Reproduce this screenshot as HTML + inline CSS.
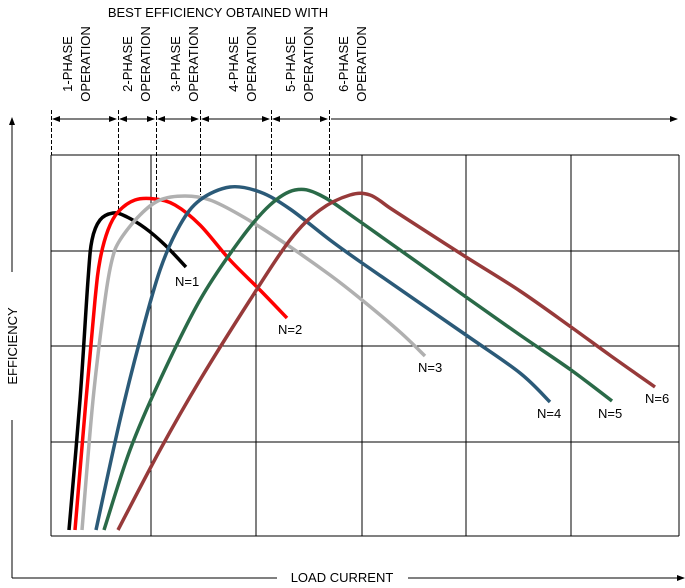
<!DOCTYPE html>
<html><head><meta charset="utf-8"><style>
body{margin:0;background:#fff;}
svg{display:block;font-family:"Liberation Sans",sans-serif;}
</style></head><body>
<svg id="chart" width="685" height="588" viewBox="0 0 685 588" xmlns="http://www.w3.org/2000/svg">
<defs>
<marker id="ah" markerWidth="8" markerHeight="8" refX="7" refY="4" orient="auto-start-reverse" markerUnits="userSpaceOnUse"><path d="M0,1 L8,4 L0,7 Z" fill="#000"/></marker>
</defs>
<g id="grid"></g>
<g id="dashes"></g>
<g id="curves"></g>
<g id="labels"></g>
<text x="218" y="17" font-size="13" text-anchor="middle">BEST EFFICIENCY OBTAINED WITH</text>
<g id="phaseText"></g>
<line x1="12" y1="272" x2="12" y2="118" stroke="#000" stroke-width="1" marker-end="url(#ah)"/>
<line x1="12" y1="420" x2="12" y2="578" stroke="#000" stroke-width="1"/>
<text transform="translate(17,346) rotate(-90)" font-size="13" text-anchor="middle">EFFICIENCY</text>
<line x1="12" y1="578" x2="277" y2="578" stroke="#000" stroke-width="1"/>
<line x1="408" y1="578" x2="684" y2="578" stroke="#000" stroke-width="1" marker-end="url(#ah)"/>
<text x="342" y="582" font-size="13" text-anchor="middle">LOAD CURRENT</text>
</svg>
<script>
// data domain: load current 0..628, efficiency 0..381 (arbitrary units)
const gridX = [0, 100, 205, 311, 415, 520, 628];
const gridY = [0, 94, 190, 285, 381];
const boundaries = [0, 67, 105, 149, 220, 278];
const boundaryEff = [381, 324, 336, 341, 346, 336];
const phaseNames = ["1-PHASE","2-PHASE","3-PHASE","4-PHASE","5-PHASE","6-PHASE"];
const phaseBase = [72, 132, 180, 238, 295, 348];
const seriesNames = ["N=1","N=2","N=3","N=4","N=5","N=6"];
const seriesColors = ["#000000","#ff0000","#b0b0b0","#2b5a78","#2a6a48","#973a3a"];
const n1Load = [18,29,37,41,49,62,74,94,114,135];
const n1Eff = [6,136,256,296,316,323,320,308,291,269];
const n2Load = [24,35,44,49,57,67,84,104,124,149,179,209,236];
const n2Eff = [6,136,236,276,306,324,336,337,331,311,276,246,218];
const n3Load = [31,42,54,61,69,89,109,134,159,189,229,279,311,349,374];
const n3Eff = [6,136,236,276,296,321,336,340,336,321,296,261,236,204,180];
const n4Load = [45,69,89,109,129,149,179,209,239,279,311,415,469,499];
const n4Eff = [6,116,196,266,311,336,349,344,327,296,273,201,163,134];
const n5Load = [53,79,109,149,189,219,244,269,311,415,469,520,561];
const n5Eff = [6,86,156,236,296,331,346,341,313,239,201,166,135];
const n6Load = [67,109,149,199,239,269,299,319,339,359,415,469,520,560,604];
const n6Eff = [6,86,156,236,296,326,341,341,328,315,279,245,209,180,149];
const labelLoad = [124,227,367,486,547,594];
const labelEff = [250,202,164,118,118,133];

const X0=51, X1=679, Y0=536, Y1=155;
const sx = v => X0 + v*(X1-X0)/628;
const sy = v => Y0 - v*(Y0-Y1)/381;
const NS="http://www.w3.org/2000/svg";
function mk(tag, parent, attrs){const e=document.createElementNS(NS,tag);for(const k in attrs)e.setAttribute(k,attrs[k]);parent.appendChild(e);return e;}

const grid=document.getElementById('grid');
gridX.forEach(v=>{const l=mk('line',grid,{x1:sx(v),y1:Y1,x2:sx(v),y2:Y0,stroke:'#000','stroke-width':1});

});
gridY.forEach(v=>{const l=mk('line',grid,{x1:X0,y1:sy(v),x2:X1,y2:sy(v),stroke:'#000','stroke-width':1});

});

const dashes=document.getElementById('dashes');
boundaries.forEach((b,i)=>{const l=mk('line',dashes,{x1:sx(b)+0.5,y1:110,x2:sx(b)+0.5,y2:sy(boundaryEff[i]),stroke:'#000','stroke-width':1,'stroke-dasharray':'4,2'});

});
for(let i=0;i<boundaries.length;i++){
  const a=sx(boundaries[i])+2, b=(i+1<boundaries.length?sx(boundaries[i+1])-2:677);
  const l=mk('line',dashes,{x1:a,y1:119,x2:b,y2:119,stroke:'#000','stroke-width':1,'marker-end':'url(#ah)','marker-start':i+1<boundaries.length?'url(#ah)':''});
  
  
}
const pt=document.getElementById('phaseText');
phaseNames.forEach((n,i)=>{
  const t=mk('text',pt,{transform:`translate(${phaseBase[i]},64) rotate(-90)`,'font-size':'13','text-anchor':'middle'});
  
  
  const t1=mk('tspan',t,{x:0,y:0});t1.textContent=n;
  const t2=mk('tspan',t,{x:0,y:18});t2.textContent='OPERATION';
});

const loads=[n1Load,n2Load,n3Load,n4Load,n5Load,n6Load];
const effs=[n1Eff,n2Eff,n3Eff,n4Eff,n5Eff,n6Eff];
function pathFrom(xs,ys){
  const p=xs.map((x,i)=>[sx(x),sy(ys[i])]);
  let d=`M${p[0][0]},${p[0][1]}`;
  for(let i=0;i<p.length-1;i++){
    const p0=p[Math.max(i-1,0)],p1=p[i],p2=p[i+1],p3=p[Math.min(i+2,p.length-1)];
    const c1=[p1[0]+(p2[0]-p0[0])/6,p1[1]+(p2[1]-p0[1])/6];
    const c2=[p2[0]-(p3[0]-p1[0])/6,p2[1]-(p3[1]-p1[1])/6];
    d+=` C${c1[0]},${c1[1]} ${c2[0]},${c2[1]} ${p2[0]},${p2[1]}`;
  }
  return d;
}
const curves=document.getElementById('curves');
const labels=document.getElementById('labels');
loads.forEach((xs,i)=>{
  const c=mk('path',curves,{d:pathFrom(xs,effs[i]),fill:'none',stroke:seriesColors[i],'stroke-width':3.5,'stroke-linecap':'butt','stroke-linejoin':'round'});
  
  
  const t=mk('text',labels,{x:sx(labelLoad[i]),y:sy(labelEff[i]),'font-size':'13'});
  
  
  t.textContent=seriesNames[i];
});
</script>
</body></html>
